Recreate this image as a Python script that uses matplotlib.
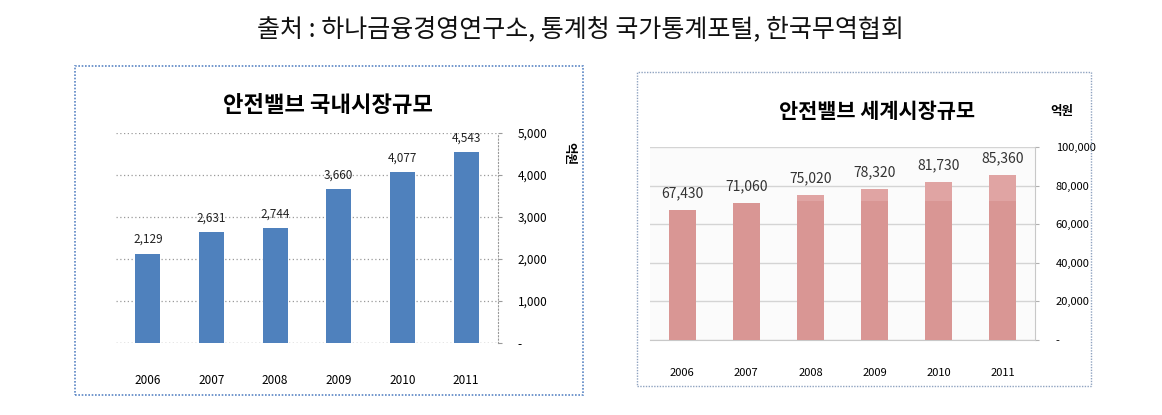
import matplotlib
matplotlib.use("Agg")
import matplotlib.pyplot as plt
from matplotlib.patches import Rectangle
from matplotlib.ticker import FuncFormatter

plt.rcParams['font.family'] = ['Noto Sans CJK KR', 'DejaVu Sans']

# ---- data ----
years = ["2006", "2007", "2008", "2009", "2010", "2011"]
domestic = [2129, 2631, 2744, 3660, 4077, 4543]
world = [67430, 71060, 75020, 78320, 81730, 85360]
domestic_ticks = [0, 1000, 2000, 3000, 4000, 5000]
world_ticks = [0, 20000, 40000, 60000, 80000, 100000]
caption = "출처 : 하나금융경영연구소, 통계청 국가통계포털, 한국무역협회"
title_dom = "안전밸브 국내시장규모"
title_world = "안전밸브 세계시장규모"
unit = "억원"
shade_level = 72000  # level above which the world bars render lighter

W, H = 1162, 415
fig = plt.figure(figsize=(W / 100, H / 100), dpi=100)
fig.patch.set_facecolor("white")


def px_axes(x0, y0, x1, y1):
    return fig.add_axes([x0 / W, 1 - y1 / H, (x1 - x0) / W, (y1 - y0) / H])


def px_rect(x0, y0, x1, y1, **kw):
    fig.patches.append(Rectangle((x0 / W, 1 - y1 / H), (x1 - x0) / W, (y1 - y0) / H,
                                 transform=fig.transFigure, fill=False, **kw))


def fmt(v, pos=None):
    return "-" if v == 0 else f"{int(v):,}"


# caption
fig.text(580 / W, 1 - 29 / H, caption, ha="center", va="center", fontsize=18,
         color="#111111", fontweight="light")

# frames
px_rect(75, 66, 583, 395, edgecolor="#5B86C5", linewidth=1.2, linestyle=(0, (1, 1)))
px_rect(637, 72, 1091, 386, edgecolor="#8FA3C0", linewidth=1.0, linestyle=(0, (1, 1)))

# ---- left chart ----
ax1 = px_axes(116, 133, 498, 343)
x = list(range(len(years)))
ax1.bar(x, domestic, width=0.39, color="#4F81BD", zorder=3)
ax1.set_xlim(-0.5, 5.5)
ax1.set_ylim(0, 5000)
ax1.set_yticks(domestic_ticks)
ax1.yaxis.set_major_formatter(FuncFormatter(fmt))
ax1.yaxis.tick_right()
ax1.grid(axis="y", color="#9A9A9A", linestyle=(0, (1, 2)), linewidth=0.9, zorder=0)
for s in ["top", "left", "bottom"]:
    ax1.spines[s].set_visible(False)
ax1.spines["right"].set_color("#9A9A9A")
ax1.spines["right"].set_linestyle((0, (1, 2)))
ax1.axhline(0, color="#9A9A9A", linestyle=(0, (1, 2)), linewidth=0.9)
ax1.set_xticks(x)
ax1.set_xticklabels(years, fontsize=8.5)
ax1.tick_params(axis="x", length=0, pad=22)
ax1.tick_params(axis="y", length=3, color="#9A9A9A", labelsize=8.5, pad=11)
for i, v in zip(x, domestic):
    ax1.text(i, v + 180, f"{v:,}", ha="center", va="bottom", fontsize=8.5, color="#222222")
fig.text(328 / W, 1 - 105 / H, title_dom, ha="center", va="center", fontsize=16, fontweight="bold")
fig.text(569 / W, 1 - 153 / H, unit, ha="center", va="center", fontsize=9, fontweight="bold",
         rotation=-90)

# ---- right chart ----
ax2 = px_axes(650, 147, 1035, 340)
ax2.set_facecolor("#FBFBFB")
ax2.bar(x, world, width=0.42, color="#D99694", zorder=3)
upper = [max(v - shade_level, 0) for v in world]
ax2.bar(x, upper, bottom=shade_level, width=0.42, color="#E0A4A3", zorder=3)
ax2.set_xlim(-0.5, 5.5)
ax2.set_ylim(0, 100000)
ax2.set_yticks(world_ticks)
ax2.yaxis.set_major_formatter(FuncFormatter(fmt))
ax2.yaxis.tick_right()
ax2.grid(axis="y", color="#D4D4D4", linewidth=1.0, zorder=0)
for s in ["top", "left"]:
    ax2.spines[s].set_visible(False)
ax2.spines["right"].set_color("#C8C8C8")
ax2.spines["bottom"].set_color("#C8C8C8")
ax2.set_xticks(x)
ax2.set_xticklabels(years, fontsize=8)
ax2.tick_params(axis="x", length=0, pad=20)
ax2.tick_params(axis="y", length=3, color="#B0B0B0", labelsize=8, pad=12)
for i, v in zip(x, world):
    ax2.text(i, v + 5000, f"{v:,}", ha="center", va="bottom", fontsize=10, color="#333333")
fig.text(877 / W, 1 - 112 / H, title_world, ha="center", va="center", fontsize=15, fontweight="bold")
fig.text(1062 / W, 1 - 112 / H, unit, ha="center", va="center", fontsize=9, fontweight="bold")

fig.savefig("out.png", dpi=100, facecolor="white")
